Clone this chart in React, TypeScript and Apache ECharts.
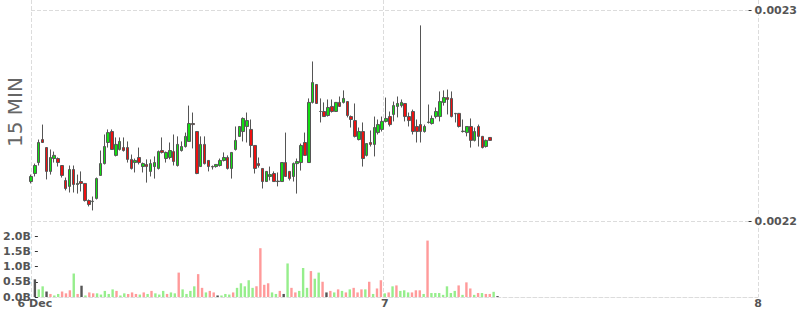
import { useEffect, useRef } from "react";
import * as echarts from "echarts";

// x axis: 15-minute slots from 6 Dec 01:30 to 8 Dec 00:00
const slotCount = 187;
const startMinutes = 90;
const tickIndex = [0, 90, 186];
const tickLabels = ["6 Dec", "7", "8"];
const categories: string[] = Array.from({ length: slotCount }, (_, i) => {
  const m = startMinutes + i * 15;
  const day = 6 + Math.floor(m / 1440);
  const hh = Math.floor((m % 1440) / 60);
  const mm = m % 60;
  return `${day} ${String(hh).padStart(2, "0")}:${String(mm).padStart(2, "0")}`;
});

const opens = [
  0.0022187, 0.0022225, 0.0022277, 0.0022386, 0.0022348, 0.0022235, 0.0022296, 0.0022296, 0.0022263, 0.0022192,
  0.0022164, 0.0022244, 0.0022173, 0.0022187, 0.0022178, 0.0022097, 0.0022092, 0.0022107, 0.0022216, 0.0022272,
  0.0022372, 0.0022424, 0.0022311, 0.0022339, 0.0022348, 0.0022348, 0.0022292, 0.0022277, 0.0022301, 0.0022258,
  0.0022268, 0.0022235, 0.0022258, 0.0022249, 0.0022334, 0.0022296, 0.0022301, 0.0022329, 0.0022263, 0.0022334,
  0.0022353, 0.0022377, 0.0022462, 0.0022424, 0.0022258, 0.0022363, 0.0022287, 0.0022258, 0.0022258, 0.0022263,
  0.0022287, 0.0022301, 0.0022249, 0.0022339, 0.0022401, 0.0022424, 0.0022448, 0.0022434, 0.0022358, 0.0022272,
  0.0022249, 0.0022187, 0.0022211, 0.0022225, 0.0022187, 0.0022187, 0.0022277, 0.0022235, 0.0022211, 0.0022272,
  0.0022277, 0.0022372, 0.0022277, 0.0022562, 0.0022647, 0.0022519, 0.0022519, 0.00225, 0.0022543, 0.0022519,
  0.0022562, 0.0022562, 0.0022566, 0.0022495, 0.0022476, 0.0022386, 0.0022424, 0.0022311, 0.0022372, 0.0022363,
  0.0022419, 0.0022434, 0.0022472, 0.0022495, 0.0022505, 0.0022543, 0.0022547, 0.0022557, 0.0022495, 0.0022519,
  0.0022448, 0.0022457, 0.0022424, 0.0022467, 0.0022462, 0.0022495, 0.0022495, 0.0022562, 0.0022585, 0.0022581,
  0.002251, 0.002251, 0.0022424, 0.0022419, 0.0022448, 0.0022382, 0.0022448, 0.0022401, 0.0022353, 0.0022396,
];
const closes = [
  0.0022211, 0.0022263, 0.0022372, 0.0022372, 0.0022235, 0.0022301, 0.0022311, 0.0022277, 0.0022216, 0.0022154,
  0.0022244, 0.0022173, 0.0022178, 0.0022178, 0.0022097, 0.0022078, 0.0022094, 0.0022201, 0.0022272, 0.0022353,
  0.0022419, 0.0022339, 0.0022363, 0.0022377, 0.0022334, 0.0022292, 0.0022249, 0.0022287, 0.0022277, 0.0022272,
  0.0022258, 0.0022272, 0.0022277, 0.0022329, 0.0022325, 0.0022325, 0.0022334, 0.0022282, 0.0022363, 0.0022353,
  0.0022401, 0.0022462, 0.0022457, 0.0022225, 0.0022363, 0.0022272, 0.0022258, 0.0022256, 0.0022268, 0.0022287,
  0.0022301, 0.0022249, 0.0022325, 0.0022382, 0.0022448, 0.0022486, 0.0022476, 0.0022358, 0.0022249, 0.0022263,
  0.0022187, 0.0022235, 0.002222, 0.0022187, 0.0022189, 0.0022277, 0.0022211, 0.0022201, 0.0022272, 0.0022282,
  0.0022358, 0.0022311, 0.0022562, 0.0022656, 0.0022557, 0.0022519, 0.0022495, 0.0022538, 0.0022519, 0.0022562,
  0.0022543, 0.0022581, 0.00225, 0.0022481, 0.0022401, 0.0022424, 0.0022296, 0.0022367, 0.0022363, 0.0022443,
  0.0022457, 0.0022472, 0.0022486, 0.0022457, 0.0022547, 0.0022557, 0.0022562, 0.0022495, 0.0022476, 0.0022424,
  0.0022424, 0.0022424, 0.0022448, 0.0022469, 0.0022486, 0.0022519, 0.0022566, 0.0022585, 0.0022576, 0.0022495,
  0.0022508, 0.0022448, 0.0022426, 0.0022448, 0.0022382, 0.0022424, 0.0022401, 0.0022348, 0.0022382, 0.0022382,
];
const lows = [
  0.0022178, 0.0022211, 0.0022263, 0.002237, 0.0022197, 0.002222, 0.0022277, 0.0022258, 0.0022206, 0.0022145,
  0.0022135, 0.0022135, 0.002213, 0.002214, 0.0022092, 0.0022069, 0.002205, 0.0022102, 0.0022216, 0.0022268,
  0.0022348, 0.0022339, 0.0022306, 0.0022334, 0.0022329, 0.0022277, 0.0022244, 0.002223, 0.0022268, 0.002223,
  0.0022182, 0.0022211, 0.0022201, 0.0022244, 0.002232, 0.0022277, 0.0022292, 0.0022263, 0.0022258, 0.0022329,
  0.0022348, 0.0022375, 0.0022344, 0.0022222, 0.0022256, 0.0022268, 0.0022235, 0.0022244, 0.0022253, 0.0022258,
  0.0022282, 0.0022244, 0.0022201, 0.0022334, 0.0022398, 0.0022377, 0.0022372, 0.0022301, 0.0022225, 0.0022253,
  0.0022154, 0.0022185, 0.0022192, 0.0022185, 0.0022164, 0.0022185, 0.0022209, 0.0022192, 0.0022187, 0.002213,
  0.0022239, 0.0022308, 0.0022275, 0.0022557, 0.0022555, 0.0022467, 0.0022493, 0.0022495, 0.0022514, 0.0022517,
  0.0022541, 0.0022557, 0.0022491, 0.0022443, 0.0022396, 0.0022382, 0.0022258, 0.0022306, 0.0022353, 0.0022306,
  0.002241, 0.0022424, 0.0022467, 0.0022448, 0.0022472, 0.0022491, 0.0022538, 0.0022472, 0.0022448, 0.002241,
  0.0022372, 0.0022372, 0.0022419, 0.0022462, 0.0022457, 0.0022486, 0.0022472, 0.0022547, 0.0022505, 0.0022491,
  0.0022467, 0.0022443, 0.0022419, 0.0022401, 0.0022348, 0.0022377, 0.0022353, 0.0022344, 0.0022348, 0.002238,
];
const highs = [
  0.002222, 0.0022272, 0.0022386, 0.0022457, 0.0022348, 0.0022339, 0.0022329, 0.0022301, 0.0022263, 0.0022206,
  0.0022263, 0.0022263, 0.002222, 0.0022235, 0.0022178, 0.0022102, 0.0022116, 0.0022206, 0.0022334, 0.002241,
  0.0022434, 0.0022434, 0.0022396, 0.0022396, 0.0022396, 0.0022377, 0.0022315, 0.0022296, 0.0022348, 0.0022277,
  0.0022292, 0.0022292, 0.0022306, 0.0022334, 0.0022396, 0.0022329, 0.0022372, 0.002241, 0.0022401, 0.0022377,
  0.0022419, 0.0022547, 0.0022514, 0.0022426, 0.0022401, 0.0022401, 0.0022287, 0.0022263, 0.0022268, 0.0022296,
  0.0022325, 0.0022311, 0.0022327, 0.0022448, 0.002245, 0.0022491, 0.0022514, 0.0022481, 0.0022358, 0.0022301,
  0.0022249, 0.0022237, 0.0022258, 0.0022235, 0.002223, 0.0022279, 0.0022419, 0.0022237, 0.0022277, 0.0022296,
  0.0022367, 0.0022419, 0.0022581, 0.0022756, 0.0022649, 0.0022581, 0.0022562, 0.0022576, 0.0022576, 0.0022564,
  0.002259, 0.0022619, 0.0022568, 0.00225, 0.0022557, 0.0022443, 0.0022467, 0.0022369, 0.0022429, 0.0022495,
  0.0022481, 0.0022495, 0.0022585, 0.0022519, 0.0022566, 0.002259, 0.0022576, 0.0022559, 0.0022514, 0.0022528,
  0.0022481, 0.0022927, 0.0022457, 0.0022552, 0.00225, 0.0022538, 0.0022614, 0.0022619, 0.0022623, 0.0022614,
  0.0022512, 0.0022512, 0.0022481, 0.002245, 0.0022486, 0.0022443, 0.0022457, 0.0022403, 0.0022386, 0.0022398,
];

// volume in billions, and its bar tone: g = up, r = down, d = flat
const volumes = [
  0.58, 0.25, 0.35, 0.18, 0.1, 0.05, 0.1, 0.18, 0.12, 0.22,
  0.77, 0.1, 0.37, 0.05, 0.15, 0.12, 0.12, 0.08, 0.2, 0.1,
  0.25, 0.2, 0.05, 0.12, 0.1, 0.15, 0.1, 0.08, 0.15, 0.1,
  0.2, 0.12, 0.08, 0.2, 0.1, 0.15, 0.12, 0.8, 0.25, 0.1,
  0.2, 0.35, 0.75, 0.3, 0.15, 0.2, 0.15, 0.05, 0.05, 0.1,
  0.08, 0.15, 0.3, 0.45, 0.35, 0.55, 0.3, 0.35, 1.6, 0.4,
  0.45, 0.15, 0.1, 0.2, 0.1, 1.1, 0.3, 0.15, 0.2, 0.95,
  0.3, 0.85, 0.6, 0.8, 0.5, 0.15, 0.2, 0.15, 0.25, 0.2,
  0.15, 0.25, 0.3, 0.15, 0.25, 0.25, 0.5, 0.1, 0.28, 0.55,
  0.12, 0.15, 0.35, 0.38, 0.2, 0.22, 0.15, 0.15, 0.22, 0.22,
  0.1, 1.85, 0.13, 0.13, 0.13, 0.07, 0.35, 0.13, 0.2, 0.38,
  0.07, 0.48, 0.28, 0.07, 0.13, 0.13, 0.1, 0.1, 0.17, 0.03,
];
const volumeTones = [
  "d", "g", "g", "d", "r", "g", "g", "r", "r", "r",
  "g", "r", "d", "g", "r", "r", "g", "g", "g", "g",
  "g", "r", "g", "g", "r", "r", "r", "g", "r", "g",
  "r", "g", "g", "g", "r", "g", "g", "r", "g", "g",
  "g", "g", "r", "r", "g", "r", "r", "d", "g", "g",
  "g", "r", "g", "g", "g", "g", "g", "r", "r", "r",
  "r", "g", "g", "r", "d", "g", "r", "r", "g", "g",
  "g", "r", "g", "g", "r", "d", "r", "g", "r", "g",
  "r", "g", "r", "r", "r", "g", "r", "g", "r", "r",
  "g", "r", "g", "r", "g", "g", "g", "r", "r", "r",
  "g", "r", "g", "g", "g", "g", "g", "g", "g", "r",
  "g", "r", "r", "g", "r", "g", "r", "r", "g", "d",
];
const toneColors: Record<string, string> = { g: "#96ee8c", r: "#ff9a9a", d: "#555555" };

const labelFont = { color: "#555", fontWeight: "bold" as const, fontSize: 11, fontFamily: "DejaVu Sans" };
const dash = { color: "#dcdcdc", type: "dashed" as const, width: 1 };

export default function App() {
  const ref = useRef<HTMLDivElement>(null);
  useEffect(() => {
    if (!ref.current) return;
    const chart = echarts.init(ref.current, undefined, { renderer: "svg" });
    const candles = opens.map((o, i) => [o, closes[i], lows[i], highs[i]]);
    const vols = volumes.map((v, i) => ({ value: v, itemStyle: { color: toneColors[volumeTones[i]] } }));
    const isTick = (i: number) => tickIndex.includes(i);
    chart.setOption({
      animation: false,
      backgroundColor: "#ffffff",
      grid: [
        { left: 31, right: 42, top: 10, height: 211 },
        { left: 31, right: 42, top: 236, height: 61 },
        { left: 31, right: 42, top: 0, height: 297 },
      ],
      xAxis: [
        {
          type: "category", gridIndex: 0, data: categories, boundaryGap: false,
          axisLine: { show: false }, axisTick: { show: false }, axisLabel: { show: false }, splitLine: { show: false },
        },
        {
          type: "category", gridIndex: 1, data: categories, boundaryGap: false,
          axisLine: { show: true, lineStyle: dash }, axisTick: { show: false },
          axisLabel: {
            ...labelFont, margin: 1, interval: (i: number) => isTick(i),
            formatter: (_v: string, i: number) => tickLabels[tickIndex.indexOf(i)] ?? "",
          },
          splitLine: { show: false },
        },
        {
          type: "category", gridIndex: 2, data: categories, boundaryGap: false,
          axisLine: { show: false }, axisTick: { show: false }, axisLabel: { show: false },
          splitLine: { show: true, interval: (i: number) => isTick(i), lineStyle: dash },
        },
      ],
      yAxis: [
        {
          type: "value", gridIndex: 0, position: "right", min: 0.0022, max: 0.0023, interval: 0.0001,
          axisLine: { show: false },
          axisTick: { show: true, length: 3, lineStyle: { color: "#333" } },
          axisLabel: { ...labelFont, margin: 6, formatter: (v: number) => v.toFixed(4) },
          splitLine: { show: true, lineStyle: dash },
        },
        {
          type: "value", gridIndex: 1, position: "left", min: 0, max: 2, interval: 0.5,
          axisLine: { show: false },
          axisTick: { show: true, inside: true, length: 3, lineStyle: { color: "#333" } },
          axisLabel: { ...labelFont, margin: 4, formatter: (v: number) => v.toFixed(1) + "B" },
          splitLine: { show: false },
        },
        { type: "value", gridIndex: 2, show: false },
      ],
      series: [
        {
          type: "candlestick", xAxisIndex: 0, yAxisIndex: 0, data: candles, barWidth: 3,
          itemStyle: { color: "#12de12", color0: "#ee1010", borderColor: "#555", borderColor0: "#555", borderWidth: 1 },
        },
        { type: "bar", xAxisIndex: 1, yAxisIndex: 1, data: vols, barWidth: 2.4 },
      ],
      graphic: [
        {
          type: "text", x: 15, y: 112, rotation: Math.PI / 2,
          style: {
            text: "15 MIN", fill: "#666", font: '20px "DejaVu Sans"',
            textAlign: "center", textVerticalAlign: "middle",
          },
        },
      ],
    });
    return () => chart.dispose();
  }, []);
  return <div ref={ref} style={{ position: "absolute", left: 0, top: 0, width: 800, height: 315 }} />;
}
